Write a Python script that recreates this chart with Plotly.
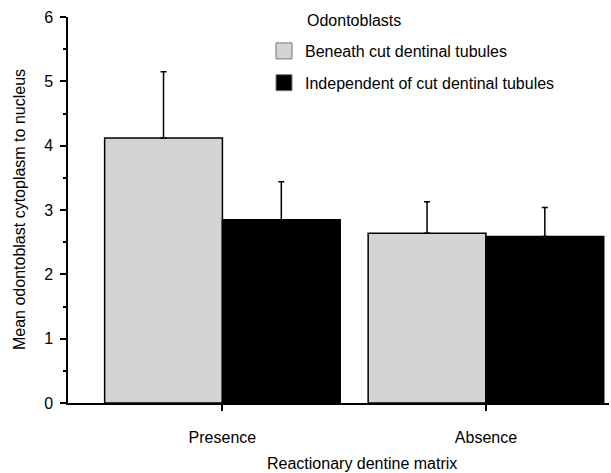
import plotly.graph_objects as go

categories = ["Presence", "Absence"]
series_names = ["Beneath cut dentinal tubules", "Independent of cut dentinal tubules"]
beneath_means = [4.12, 2.64]
beneath_err = [1.03, 0.49]
independent_means = [2.85, 2.59]
independent_err = [0.59, 0.45]
y_ticks = [0, 1, 2, 3, 4, 5, 6]

colors = ["#d4d4d4", "#000000"]
FONT = "Liberation Sans, Arial, Helvetica, sans-serif"

L, R, T, B = 68, 2, 17, 70
W, H = 611, 473
pw, ph = W - L - R, H - T - B


def px_x(x):
    return (x - L) / pw


def px_y(y):
    return (H - B - y) / ph


fig = go.Figure()
for name, means, errs, col in zip(series_names, [beneath_means, independent_means],
                                  [beneath_err, independent_err], colors):
    fig.add_trace(go.Bar(
        x=categories, y=means, name=name,
        marker=dict(color=col, line=dict(color="black", width=1.5)),
        error_y=dict(type="data", array=errs, arrayminus=[0] * len(errs), symmetric=False,
                     color="black", thickness=1.5, width=3),
        showlegend=False,
    ))
    # legend swatch
    fig.add_trace(go.Scatter(
        x=[None], y=[None], mode="markers", name=name,
        marker=dict(symbol="square", size=17, color=col, line=dict(color="#777777", width=1)),
        legendgroup=name, showlegend=True,
    ))

fig.update_layout(
    width=W, height=H,
    margin=dict(l=L, r=R, t=T, b=B),
    paper_bgcolor="white", plot_bgcolor="white",
    font=dict(family=FONT, size=16, color="black"),
    barmode="group", bargap=0.106, bargroupgap=0,
    showlegend=True,
    legend=dict(x=px_x(263), y=px_y(34), xanchor="left", yanchor="top",
                font=dict(size=16), tracegroupgap=8, itemsizing="trace",
                itemwidth=32, bgcolor="rgba(0,0,0,0)"),
    annotations=[
        dict(text="Odontoblasts", xref="paper", yref="paper",
             x=px_x(305), y=px_y(20), xanchor="left", yanchor="middle",
             showarrow=False, font=dict(size=16)),
        dict(text="Reactionary dentine matrix", xref="paper", yref="paper",
             x=px_x(362), y=px_y(463), xanchor="center", yanchor="middle",
             showarrow=False, font=dict(size=16)),
        dict(text="Mean odontoblast cytoplasm to nucleus", xref="paper", yref="paper",
             x=px_x(19), y=px_y(210), xanchor="center", yanchor="middle", textangle=-90,
             showarrow=False, font=dict(size=16)),
    ],
)
fig.update_xaxes(
    type="category", range=[-0.586, 1.467], automargin=False,
    showline=True, linecolor="black", linewidth=1.5,
    ticks="outside", ticklen=6, tickwidth=1.5, tickcolor="black",
    ticklabelstandoff=13,
    showgrid=False, zeroline=False,
)
fig.update_yaxes(
    range=[0, 6], tickvals=y_ticks, automargin=False,
    showline=True, linecolor="black", linewidth=1.5,
    ticks="outside", ticklen=6, tickwidth=1.5, tickcolor="black",
    minor=dict(dtick=0.5, ticks="outside", ticklen=3, tickwidth=1.5, tickcolor="black"),
    ticklabelstandoff=4,
    showgrid=False, zeroline=False,
)

fig.write_html("out.html", config={"displayModeBar": False},
               post_script="document.body.style.margin='0';document.body.style.overflow='hidden';")
